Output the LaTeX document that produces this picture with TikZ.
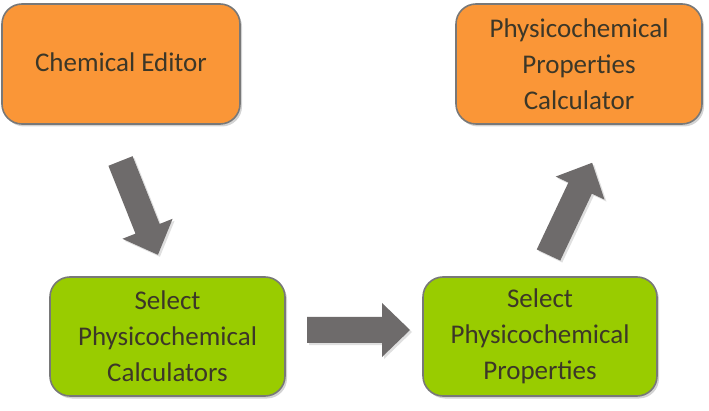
\documentclass[tikz,border=0pt]{standalone}
\usepackage{fontspec}
\setmainfont{Carlito}
\usetikzlibrary{shadows}
\definecolor{boxorange}{RGB}{250,150,55}
\definecolor{boxgreen}{RGB}{153,204,0}
\definecolor{boxborder}{RGB}{120,120,120}
\definecolor{arrowgray}{RGB}{110,107,107}
\definecolor{txt}{RGB}{60,55,40}
\tikzset{
  box/.style={draw=boxborder, line width=1.6pt, rounded corners=20pt,
    minimum width=238pt, minimum height=120pt, align=center,
    text=txt, font=\fontsize{27}{36}\selectfont,
    drop shadow={opacity=0.35, shadow xshift=2pt, shadow yshift=-2.5pt}},
  orangebox/.style={box, fill=boxorange},
  greenbox/.style={box, fill=boxgreen},
  fatarrow/.style={fill=arrowgray,
    drop shadow={opacity=0.25, shadow xshift=2pt, shadow yshift=-2pt}}
}
\newcommand\blockarrow[3]{%
  \begin{scope}[shift={#1}, rotate=#2]
    \path[fatarrow] (0pt,13pt) -- (#3-28pt,13pt) -- (#3-28pt,27pt) -- (#3,0pt)
      -- (#3-28pt,-27pt) -- (#3-28pt,-13pt) -- (0pt,-13pt) -- cycle;
  \end{scope}}
\begin{document}
\begin{tikzpicture}[x=1pt,y=1pt]
\useasboundingbox (0,0) rectangle (709,-411);
\node[orangebox] (editor) at (121,-64) {\raisebox{3pt}{Chemical Editor}};
\node[orangebox, minimum width=246pt] (calc) at (579,-64) {Physicochemical\\Properties\\Calculator};
\node[greenbox, minimum width=235pt, minimum height=119pt] (selcalc) at (167.5,-336.5) {Select\\Physicochemical\\Calculators};
\node[greenbox, minimum width=234pt, minimum height=119pt] (selprop) at (540,-336.5) {Select\\Physicochemical\\Properties};
\blockarrow{(120.5pt,-161pt)}{-68.25}{101pt}
\blockarrow{(307pt,-330pt)}{0}{103pt}
\blockarrow{(548.5pt,-255pt)}{64.7}{102pt}
\end{tikzpicture}
\end{document}
